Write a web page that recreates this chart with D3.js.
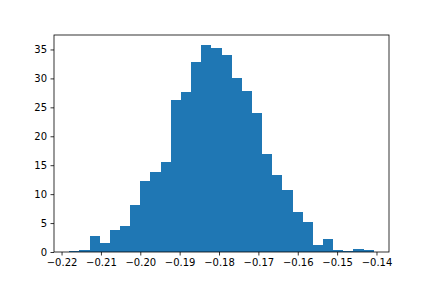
<!DOCTYPE html>
<html>
<head>
<meta charset="utf-8">
<script src="https://cdn.jsdelivr.net/npm/d3@7"></script>
<style>
  html, body { margin: 0; padding: 0; background: #fff; }
  text { font-family: "DejaVu Sans", sans-serif; }
</style>
</head>
<body>
<div id="chart"></div>
<script>
const width = 432,
  height = 288;

// bin edges of the histogram (31 edges, 30 bins)
const binEdges = [
  -0.21805, -0.21547, -0.21289, -0.21031, -0.20773, -0.20516, -0.20258, -0.20000,
  -0.19742, -0.19484, -0.19226, -0.18968, -0.18710, -0.18452, -0.18195, -0.17937,
  -0.17679, -0.17421, -0.17163, -0.16905, -0.16647, -0.16389, -0.16131, -0.15874,
  -0.15616, -0.15358, -0.15100, -0.14842, -0.14584, -0.14326, -0.14068];

// density of each bin
const densities = [
  0.2, 0.35, 2.7, 1.55, 3.75, 4.45, 8.1, 12.2, 13.8, 15.5,
  26.2, 27.6, 32.9, 35.7, 35.2, 34.1, 30.0, 27.75, 24.1, 16.9,
  13.25, 10.8, 6.85, 5.1, 1.15, 2.2, 0.35, 0.17, 0.5, 0.35];

const xTicks = [-0.22, -0.21, -0.20, -0.19, -0.18, -0.17, -0.16, -0.15, -0.14];
const yTicks = [0, 5, 10, 15, 20, 25, 30, 35];

const margin = { left: 54, right: 43, top: 35, bottom: 36 };

const svg = d3.select('#chart').append('svg')
  .attr('width', width)
  .attr('height', height);

const x = d3.scaleLinear()
  .domain([-0.22192, -0.13682])
  .range([margin.left, width - margin.right]);

const y = d3.scaleLinear()
  .domain([0, 37.5])
  .range([height - margin.bottom, margin.top]);

const bins = densities.map((d, i) => ({ x0: binEdges[i], x1: binEdges[i + 1], v: d }));

svg.append('g')
  .attr('shape-rendering', 'crispEdges')
  .selectAll('rect')
  .data(bins)
  .enter()
  .append('rect')
  .attr('x', d => x(d.x0))
  .attr('width', d => x(d.x1) - x(d.x0))
  .attr('y', d => y(d.v))
  .attr('height', d => y(0) - y(d.v))
  .attr('fill', '#1f77b4');

const minus = s => s.replace('-', '\u2212');

const xAxis = d3.axisBottom(x)
  .tickValues(xTicks)
  .tickFormat(d => minus(d3.format('.2f')(d)))
  .tickSize(3.5)
  .tickPadding(3.5);

const yAxis = d3.axisLeft(y)
  .tickValues(yTicks)
  .tickFormat(d3.format('d'))
  .tickSize(3.5)
  .tickPadding(3.5);

const gx = svg.append('g')
  .attr('transform', `translate(0,${height - margin.bottom})`)
  .call(xAxis);

const gy = svg.append('g')
  .attr('transform', `translate(${margin.left},0)`)
  .call(yAxis);

[gx, gy].forEach((g) => {
  g.select('.domain').remove();
  g.selectAll('line').attr('stroke', '#000').attr('stroke-width', 0.8);
  g.selectAll('text')
    .attr('fill', '#000')
    .style('font-size', '10px')
    .style('font-family', '"DejaVu Sans", sans-serif');
});

// frame (spines)
svg.append('rect')
  .attr('x', margin.left)
  .attr('y', margin.top)
  .attr('width', width - margin.left - margin.right)
  .attr('height', height - margin.top - margin.bottom)
  .attr('fill', 'none')
  .attr('stroke', '#000')
  .attr('stroke-width', 0.8);
</script>
</body>
</html>
